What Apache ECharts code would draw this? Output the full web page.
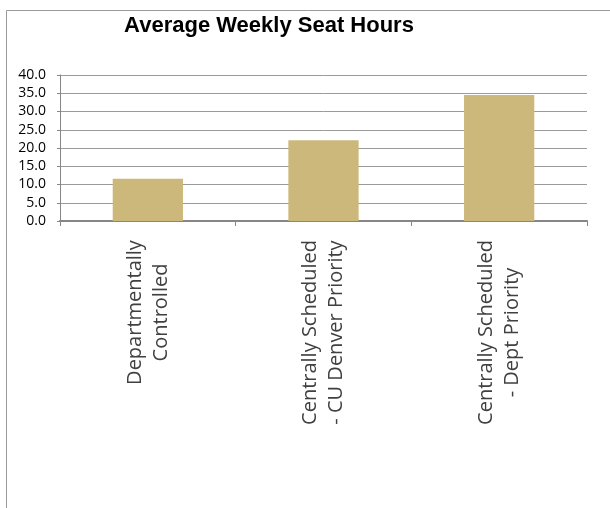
<!DOCTYPE html>
<html>
<head>
<meta charset="utf-8">
<script src="https://cdn.jsdelivr.net/npm/echarts@6/dist/echarts.min.js"></script>
<style>
  html, body { margin: 0; padding: 0; background: #fff; }
  #chart { width: 610px; height: 508px; }
</style>
</head>
<body>
<div id="chart"></div>
<script>
// categories, two lines each (rotated labels)
const categories = [
  'Departmentally\nControlled',
  'Centrally Scheduled\n- CU Denver Priority',
  'Centrally Scheduled\n- Dept Priority'
];
const seatHours = [11.6, 22.1, 34.5];
const yTicks = [0, 5, 10, 15, 20, 25, 30, 35, 40];

const labelFont = '"Open Sans", "DejaVu Sans", sans-serif';
const labelSize = 20;

// measure longest line so the lines can be centred against each other
const measureCtx = document.createElement('canvas').getContext('2d');
measureCtx.font = labelSize + 'px ' + labelFont;
const lineWidth = (s) => Math.ceil(measureCtx.measureText(s).width);

let rich = {};
categories.forEach((c, i) => {
  let w = Math.max.apply(Math, c.split('\n').map(lineWidth));
  rich['c' + i] = {
    width: w,
    align: 'center',
    fontFamily: labelFont,
    fontSize: labelSize,
    lineHeight: 26,
    color: '#404040'
  };
});

let chart = echarts.init(document.getElementById('chart'));

let options = {
  animation: false,
  title: {
    text: 'Average Weekly Seat Hours',
    left: 264,
    top: 10,
    textAlign: 'center',
    textStyle: {
      fontFamily: '"Liberation Sans", Arial, sans-serif',
      fontWeight: 'bold',
      fontSize: 22,
      color: '#000'
    }
  },
  graphic: [{
    type: 'rect',
    left: 4,
    top: 8,
    shape: { width: 700, height: 600 },
    style: { fill: 'none', stroke: '#9a9a9a', lineWidth: 1 },
    silent: true
  }],
  grid: {
    left: 60,
    right: 23,
    top: 75,
    bottom: 287
  },
  xAxis: {
    type: 'category',
    data: categories,
    axisLine: { lineStyle: { color: '#868686', width: 2 } },
    axisTick: { show: true, alignWithLabel: false, length: 5, lineStyle: { color: '#868686' } },
    axisLabel: {
      rotate: 90,
      margin: 19,
      interval: 0,
      formatter: (v, idx) => v.split('\n').map(s => '{c' + idx + '|' + s + '}').join('\n'),
      rich: rich
    }
  },
  yAxis: {
    type: 'value',
    min: yTicks[0],
    max: yTicks[yTicks.length - 1],
    interval: 5,
    axisLine: { show: true, lineStyle: { color: '#868686', width: 1 } },
    axisTick: { show: true, length: 3, lineStyle: { color: '#868686' } },
    splitLine: { lineStyle: { color: '#9a9a9a', width: 1 } },
    axisLabel: {
      margin: 14,
      fontFamily: labelFont,
      fontSize: 14,
      color: '#000',
      formatter: (v) => v.toFixed(1)
    }
  },
  series: [{
    type: 'bar',
    data: seatHours,
    barWidth: '40%',
    itemStyle: { color: '#cdb87c' }
  }]
};

chart.setOption(options);
</script>
</body>
</html>
